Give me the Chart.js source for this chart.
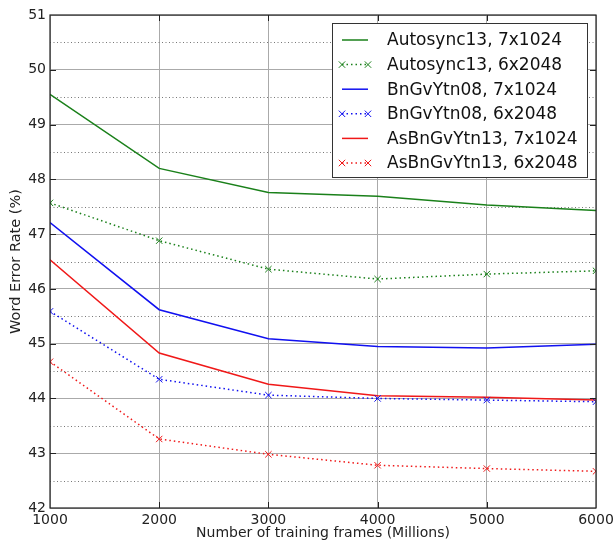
<!DOCTYPE html>
<html>
<head>
<meta charset="utf-8">
<script src="https://cdn.jsdelivr.net/npm/chart.js@4.4.1/dist/chart.umd.min.js"></script>
<style>
  html, body { margin: 0; padding: 0; background: #fff; }
  #wrap { width: 614px; height: 542px; }
</style>
</head>
<body>
<div id="wrap"><canvas id="werChart" width="614" height="542"></canvas></div>
<script>
// frames (millions) on the x axis
const frames = [1000, 2000, 3000, 4000, 5000, 6000];

// word error rate (%) per training set / topology
const autosync7x1024 = [49.55, 48.20, 47.76, 47.69, 47.53, 47.43];
const autosync6x2048 = [47.57, 46.88, 46.36, 46.18, 46.27, 46.33];
const bngv7x1024 = [47.21, 45.62, 45.09, 44.95, 44.92, 44.99];
const bngv6x2048 = [45.59, 44.35, 44.06, 44.00, 43.97, 43.94];
const asbngv7x1024 = [46.53, 44.83, 44.26, 44.05, 44.02, 43.97];
const asbngv6x2048 = [44.67, 43.26, 42.98, 42.78, 42.72, 42.67];

const seriesLabels = [
  'Autosync13, 7x1024', 'Autosync13, 6x2048',
  'BnGvYtn08, 7x1024', 'BnGvYtn08, 6x2048',
  'AsBnGvYtn13, 7x1024', 'AsBnGvYtn13, 6x2048'
];

const FONT = 'DejaVu Sans';
const GREEN = '#1a801a';
const BLUE = '#1010f0';
const RED = '#f01818';

function toPoints(vals) {
  return vals.map((v, i) => ({ x: frames[i], y: v }));
}

function solid(label, vals, color) {
  return {
    label: label,
    data: toPoints(vals),
    borderColor: color,
    backgroundColor: color,
    borderWidth: 1.5,
    pointRadius: 0,
    tension: 0
  };
}

function dotted(label, vals, color) {
  return {
    label: label,
    data: toPoints(vals),
    borderColor: color,
    backgroundColor: color,
    borderWidth: 1.5,
    borderDash: [1.5, 3],
    pointStyle: 'crossRot',
    pointRadius: 4.5,
    pointBorderWidth: 1,
    tension: 0
  };
}

// dotted half-unit grid lines + black frame round the plot
const halfGrid = {
  id: 'halfGrid',
  beforeDatasetsDraw(chart) {
    const { ctx, chartArea, scales } = chart;
    ctx.save();
    ctx.strokeStyle = '#777';
    ctx.lineWidth = 1;
    ctx.setLineDash([1, 2.5]);
    for (let v = 42.5; v < 51; v += 1) {
      const y = Math.round(scales.y.getPixelForValue(v)) + 0.5;
      ctx.beginPath();
      ctx.moveTo(chartArea.left, y);
      ctx.lineTo(chartArea.right, y);
      ctx.stroke();
    }
    ctx.restore();
  },
  afterDatasetsDraw(chart) {
    const { ctx, chartArea, scales } = chart;
    ctx.save();
    ctx.strokeStyle = '#222';
    ctx.lineWidth = 1.2;
    ctx.strokeRect(chartArea.left, chartArea.top, chartArea.right - chartArea.left, chartArea.bottom - chartArea.top);
    // small inward tick marks, like matplotlib
    ctx.lineWidth = 1;
    for (let v = 43; v < 51; v++) {
      const y = Math.round(scales.y.getPixelForValue(v)) + 0.5;
      ctx.beginPath();
      ctx.moveTo(chartArea.left, y); ctx.lineTo(chartArea.left + 6, y);
      ctx.moveTo(chartArea.right, y); ctx.lineTo(chartArea.right - 6, y);
      ctx.stroke();
    }
    for (let v = 2000; v < 6000; v += 1000) {
      const x = Math.round(scales.x.getPixelForValue(v)) + 0.5;
      ctx.beginPath();
      ctx.moveTo(x, chartArea.bottom); ctx.lineTo(x, chartArea.bottom - 6);
      ctx.moveTo(x, chartArea.top); ctx.lineTo(x, chartArea.top + 6);
      ctx.stroke();
    }
    ctx.restore();
  }
};

// matplotlib style legend box in the upper right
const boxLegend = {
  id: 'boxLegend',
  afterDraw(chart) {
    const { ctx, chartArea } = chart;
    const boxW = 255, boxH = 154;
    const x0 = 332;
    const y0 = chartArea.top + 8;
    ctx.save();
    ctx.fillStyle = '#fff';
    ctx.fillRect(x0, y0, boxW, boxH);
    ctx.strokeStyle = '#333';
    ctx.lineWidth = 1;
    ctx.strokeRect(x0 + 0.5, y0 + 0.5, boxW, boxH);
    ctx.font = '17px "' + FONT + '"';
    ctx.textBaseline = 'middle';
    chart.data.datasets.forEach((ds, i) => {
      const y = y0 + 17 + i * 24.6;
      const lx1 = x0 + 10, lx2 = x0 + 36;
      ctx.strokeStyle = ds.borderColor;
      ctx.lineWidth = ds.borderWidth;
      ctx.setLineDash(ds.borderDash || []);
      ctx.beginPath();
      ctx.moveTo(lx1, y);
      ctx.lineTo(lx2, y);
      ctx.stroke();
      ctx.setLineDash([]);
      if (ds.pointStyle === 'crossRot') {
        [lx1, lx2].forEach(px => {
          const r = 3.2;
          ctx.lineWidth = 1;
          ctx.beginPath();
          ctx.moveTo(px - r, y - r); ctx.lineTo(px + r, y + r);
          ctx.moveTo(px - r, y + r); ctx.lineTo(px + r, y - r);
          ctx.stroke();
        });
      }
      ctx.fillStyle = '#111';
      ctx.fillText(ds.label, x0 + 55, y + 1);
    });
    ctx.restore();
  }
};

const ctx = document.getElementById('werChart');
new Chart(ctx, {
  type: 'line',
  data: {
    datasets: [
      solid(seriesLabels[0], autosync7x1024, GREEN),
      dotted(seriesLabels[1], autosync6x2048, GREEN),
      solid(seriesLabels[2], bngv7x1024, BLUE),
      dotted(seriesLabels[3], bngv6x2048, BLUE),
      solid(seriesLabels[4], asbngv7x1024, RED),
      dotted(seriesLabels[5], asbngv6x2048, RED)
    ]
  },
  options: {
    responsive: false,
    animation: false,
    devicePixelRatio: 1,
    layout: { padding: { top: 15, right: 18, left: 0, bottom: 0 } },
    plugins: {
      legend: { display: false },
      tooltip: { enabled: false }
    },
    scales: {
      x: {
        type: 'linear',
        min: 1000,
        max: 6000,
        ticks: {
          stepSize: 1000,
          color: '#222',
          padding: 4,
          font: { family: FONT, size: 14 },
          callback: v => String(v)
        },
        grid: { color: '#aaa', lineWidth: 1, tickLength: 0 },
        border: { display: false },
        title: {
          display: true,
          text: 'Number of training frames (Millions)',
          color: '#222',
          font: { family: FONT, size: 14 },
          padding: { top: -3, bottom: 0 }
        },
        afterFit: s => {
          s.height = 34;
          s.paddingRight = 18;
        }
      },
      y: {
        min: 42,
        max: 51,
        ticks: {
          stepSize: 1,
          color: '#222',
          padding: 4,
          font: { family: FONT, size: 14 }
        },
        grid: { color: '#aaa', lineWidth: 1, tickLength: 0 },
        border: { display: false },
        title: {
          display: true,
          text: 'Word Error Rate (%)',
          color: '#222',
          font: { family: FONT, size: 14.5 },
          padding: { top: 8, bottom: 0 }
        },
        afterFit: s => { s.width = 50; }
      }
    }
  },
  plugins: [halfGrid, boxLegend]
});
</script>
</body>
</html>
